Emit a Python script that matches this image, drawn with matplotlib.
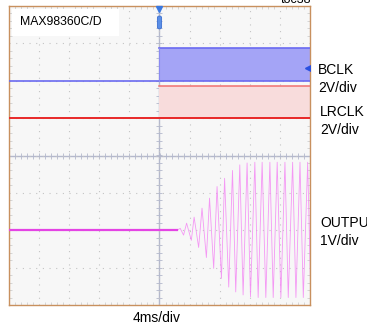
import numpy as np
import matplotlib.pyplot as plt
from matplotlib.patches import FancyBboxPatch

plt.rcParams['font.family'] = ['Liberation Sans', 'DejaVu Sans']

# scope settings (4ms/div, 10 x 8 divisions)
ms_per_div = 4.0
bclk_vdiv, lrclk_vdiv, out_vdiv = 2.0, 2.0, 1.0
bclk_ofs, lrclk_ofs, out_ofs = 2.0, 1.0, -2.0   # ground level in divisions

# clock levels (V), clocks start at t = 0
t_start = 0.0
bclk_high = 1.76
lrclk_high = 1.72

# output trace: flat, then peaks / troughs (ms, V)
flat_end = 2.3
peak_t = [2.75, 3.6, 4.6, 5.65, 6.65, 7.65, 8.65, 9.7, 10.67, 11.64, 12.67,
          13.64, 14.67, 15.64, 16.67, 17.69, 18.67, 19.69]
peak_v = [0.05, 0.19, 0.35, 0.59, 0.86, 1.17, 1.39, 1.6, 1.75, 1.8, 1.82,
          1.82, 1.82, 1.82, 1.82, 1.82, 1.82, 1.82]
trough_t = [3.2, 4.23, 5.2, 6.23, 7.2, 8.23, 9.2, 10.13, 11.11, 12.09, 13.11,
            14.13, 15.11, 16.13, 17.11, 18.13, 19.11, 20.11]
trough_v = [-0.13, -0.27, -0.46, -0.73, -1.02, -1.29, -1.52, -1.65, -1.73,
            -1.78, -1.8, -1.8, -1.8, -1.8, -1.8, -1.8, -1.8, -1.8]

fig = plt.figure(figsize=(3.67, 3.30), dpi=100)
ax = fig.add_axes([9 / 367, 1 - 305 / 330, 301 / 367, 299 / 330])
ax.set_facecolor('#f7f7f7')
ax.set_xlim(-5, 5)
ax.set_ylim(-4, 4)

# graticule
ax.set_xticks(np.arange(-5, 6, 1))
ax.set_yticks(np.arange(-4, 5, 1))
ax.set_xticks(np.arange(-5, 5.01, 0.2), minor=True)
ax.set_yticks(np.arange(-4, 4.01, 0.2), minor=True)
ax.grid(True, which='major', color='#c4c4c4', linestyle=(0, (1, 5)), linewidth=0.8)
ax.tick_params(which='both', direction='in', top=True, right=True, color='#cfcfcf',
               labelbottom=False, labelleft=False)
ax.tick_params(which='major', length=0)
ax.tick_params(which='minor', length=2.5, width=0.6)
ax.axhline(0, color='#b4b8cc', lw=1.0, zorder=1)
ax.axvline(0, color='#b4b8cc', lw=1.0, zorder=1)
mx = np.arange(-5, 5.01, 0.2)
my = np.arange(-4, 4.01, 0.2)
ax.plot(mx, np.zeros_like(mx), '|', color='#b4b8cc', ms=4, mew=0.6, zorder=1)
ax.plot(np.zeros_like(my), my, '_', color='#b4b8cc', ms=4, mew=0.6, zorder=1)
for s in ax.spines.values():
    s.set_color('#c8905e')
    s.set_linewidth(1.0)

# BCLK
x0 = t_start / ms_per_div
b_lo = bclk_ofs
b_hi = bclk_ofs + bclk_high / bclk_vdiv
ax.fill_between([x0, 5], b_lo, b_hi, color='#a4a4f6', lw=0, zorder=2)
ax.plot([-5, 5], [b_lo, b_lo], color='#6a6af0', lw=1.2, zorder=3)
ax.plot([x0, 5], [b_hi, b_hi], color='#6a6af0', lw=1.2, zorder=3)
ax.plot([x0, x0], [b_lo, b_hi], color='#8a8af2', lw=0.8, zorder=3)

# LRCLK
l_lo = lrclk_ofs
l_hi = lrclk_ofs + lrclk_high / lrclk_vdiv
ax.fill_between([x0, 5], l_lo, l_hi, color='#f8dcdc', lw=0, zorder=2)
ax.plot([x0, 5], [l_hi, l_hi], color='#f07070', lw=1.1, zorder=3)
ax.plot([-5, 5], [l_lo, l_lo], color='#e82828', lw=1.4, zorder=3)

# OUTPUT
ext_t = np.array(peak_t + trough_t)
ext_v = np.array(peak_v + trough_v)
order = np.argsort(ext_t)
out_t = np.concatenate([[-20.0, flat_end], ext_t[order]])
out_v = np.concatenate([[0.0, 0.0], ext_v[order]])
ax.plot(out_t / ms_per_div, out_ofs + out_v / out_vdiv, color='#f488f4', lw=0.6,
        alpha=0.85, zorder=3)
ax.plot(out_t[:2] / ms_per_div, out_ofs + out_v[:2] / out_vdiv, color='#e444e4', lw=1.6, zorder=4)

# trigger markers
ax.plot([0], [3.93], marker='v', color='#3a78e0', ms=4, clip_on=False, zorder=5)
ax.add_patch(FancyBboxPatch((-0.06, 3.4), 0.12, 0.32, boxstyle='round,pad=0.01,rounding_size=0.05',
                            fc='#5a8ee6', ec='#3a6ed0', lw=0.6, zorder=5))
ax.plot([4.93], [2.35], marker='<', color='#2a50e0', ms=4, zorder=5)

# label box
ax.add_patch(FancyBboxPatch((-4.9, 3.2), 3.57, 0.72, boxstyle='square,pad=0',
                            fc='white', ec='none', zorder=4))
ax.text(-4.65, 3.56, 'MAX98360C/D', fontsize=8.8, va='center', ha='left', zorder=5)

# channel labels
def ftxt(x, y, s, **kw):
    fig.text(x / 367, 1 - y / 330, s, fontsize=10, va='center', **kw)

ftxt(318, 70, 'BCLK')
ftxt(318, 88, '2V/div')
ftxt(320, 112, 'LRCLK')
ftxt(320, 130, '2V/div')
ftxt(320, 223, 'OUTPUT')
ftxt(320, 241, '1V/div')
ftxt(157, 318, '4ms/div', ha='center')
fig.text(296 / 367, 1 - 3 / 330, 'toc38', fontsize=9, ha='center', va='baseline')

plt.savefig('out.png', dpi=100)
